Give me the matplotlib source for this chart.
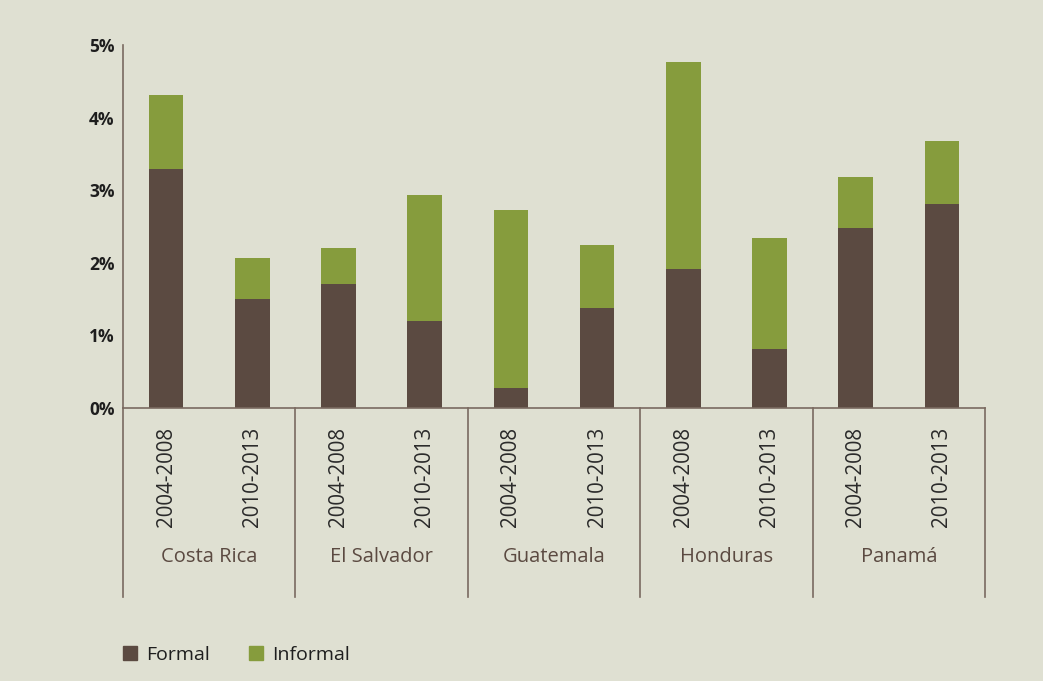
import matplotlib
matplotlib.use("Agg")
import matplotlib.pyplot as plt
import matplotlib.transforms as mtransforms
from matplotlib.patches import Patch
import numpy as np

plt.rcParams['font.family'] = ['Open Sans', 'DejaVu Sans']

# datos
paises = ["Costa Rica", "El Salvador", "Guatemala", "Honduras", "Panamá"]
periodos = ["2004-2008", "2010-2013"]
formal = [3.29, 1.50, 1.71, 1.20, 0.28, 1.38, 1.92, 0.81, 2.48, 2.81]
informal = [1.02, 0.57, 0.50, 1.73, 2.45, 0.87, 2.84, 1.53, 0.70, 0.87]

c_formal = "#5b4a41"
c_informal = "#869c3d"
c_linea = "#7a6a60"
fondo = "#dfe0d2"

fig = plt.figure(figsize=(10.43, 6.81), dpi=100, facecolor=fondo)
ax = fig.add_axes([0.1179, 0.4009, 0.8265, 0.533])
ax.set_facecolor(fondo)

x = np.arange(len(formal)) + 0.5
ax.bar(x, formal, width=0.40, color=c_formal, zorder=2)
ax.bar(x, informal, width=0.40, bottom=formal, color=c_informal, zorder=2)

ax.set_xlim(0, len(formal))
ax.set_ylim(0, 5)
ax.set_yticks(range(6))
ax.set_yticklabels([f"{v}%" for v in range(6)], fontsize=12.5, fontweight='bold', color="#1e1e1e")
ax.tick_params(axis='y', length=0, pad=6)
ax.set_xticks([])

for s in ['top', 'right']:
    ax.spines[s].set_visible(False)
for s in ['left', 'bottom']:
    ax.spines[s].set_color(c_linea)
    ax.spines[s].set_linewidth(1.2)

# etiquetas de periodo y país debajo del eje
trans = mtransforms.blended_transform_factory(ax.transData, ax.transAxes)
for i, xi in enumerate(x):
    ax.text(xi, -0.052, periodos[i % 2], transform=trans, rotation=90,
            ha='center', va='top', fontsize=14.8, color="#2a2a2a")

for g, pais in enumerate(paises):
    ax.text(2 * g + 1, -0.41, pais, transform=trans, ha='center', va='center',
            fontsize=14.5, color="#5b4a41")

for b in range(len(paises) + 1):
    ax.plot([2 * b, 2 * b], [0, -0.52], transform=trans, color=c_linea,
            lw=1.2, clip_on=False)

# leyenda
handles = [Patch(color=c_formal, label="Formal"),
           Patch(color=c_informal, label="Informal")]
fig.legend(handles=handles, loc='lower left', bbox_to_anchor=(0.101, 0.0),
           ncol=2, frameon=False, fontsize=14, handlelength=0.75,
           handleheight=0.75, handletextpad=0.45, columnspacing=2.0,
           labelcolor="#1e1e1e")

fig.savefig("out.png", dpi=100, facecolor=fondo)
